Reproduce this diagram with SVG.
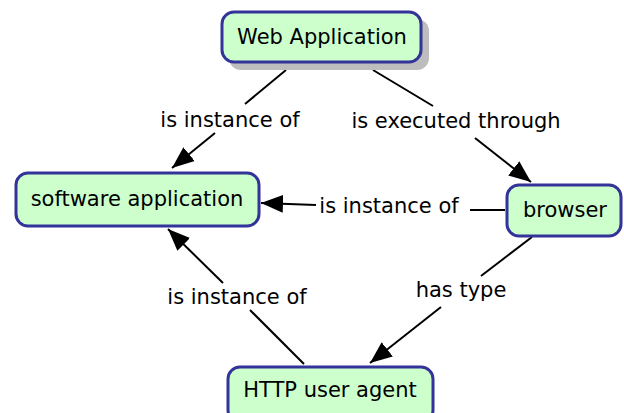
<svg xmlns="http://www.w3.org/2000/svg" width="624" height="413" viewBox="0 0 624 413">
<style>
.node rect.box{fill:#ccffcc;stroke:#333399;stroke-width:3}
.shadow{fill:#bdbdbd}
text{font-family:"DejaVu Sans","Verdana",sans-serif;font-size:21px;fill:#000}
.node text{text-anchor:middle}
.lbl{text-anchor:middle}
#connectors line{stroke:#000;stroke-width:2}
</style>
<defs>
<marker id="arr" markerUnits="userSpaceOnUse" markerWidth="24" markerHeight="20" viewBox="0 0 24 20" refX="22" refY="10" orient="auto">
<path d="M0,1 L22,10 L0,19 Z" fill="#000"/>
</marker>
</defs>
<rect width="624" height="413" fill="#fff"/>
<g id="connectors">
<line x1="286" y1="70" x2="245" y2="104"/>
<line x1="215" y1="133" x2="172" y2="168" marker-end="url(#arr)"/>
<text class="lbl" x="230" y="127">is instance of</text>
<line x1="373" y1="70" x2="433" y2="106"/>
<line x1="475" y1="138" x2="531" y2="182" marker-end="url(#arr)"/>
<text class="lbl" x="456" y="128">is executed through</text>
<line x1="505" y1="210" x2="470" y2="210"/>
<line x1="316" y1="205" x2="261" y2="203" marker-end="url(#arr)"/>
<text class="lbl" x="389" y="213">is instance of</text>
<line x1="304" y1="364" x2="250" y2="310"/>
<line x1="223" y1="283" x2="168" y2="229" marker-end="url(#arr)"/>
<text class="lbl" x="237" y="304">is instance of</text>
<line x1="532" y1="237" x2="481" y2="276"/>
<line x1="441" y1="307" x2="370" y2="363" marker-end="url(#arr)"/>
<text class="lbl" x="461" y="297">has type</text>
</g>
<g id="node-web-application" class="node">
<rect class="shadow" x="229" y="19" width="200" height="51" rx="12"/>
<rect class="box" x="222" y="12" width="199" height="50" rx="12"/>
<text x="322" y="44">Web Application</text>
</g>
<g id="node-software-application" class="node">
<rect class="box" x="16" y="173" width="243" height="53" rx="12"/>
<text x="137" y="206">software application</text>
</g>
<g id="node-browser" class="node">
<rect class="box" x="507" y="185" width="114" height="51" rx="12"/>
<text x="565" y="217">browser</text>
</g>
<g id="node-http-user-agent" class="node">
<rect class="box" x="228" y="367" width="205" height="55" rx="12"/>
<text x="330" y="397">HTTP user agent</text>
</g>
</svg>
